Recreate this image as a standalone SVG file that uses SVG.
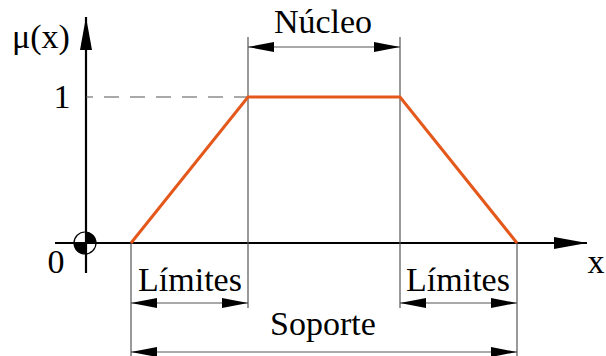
<svg xmlns="http://www.w3.org/2000/svg" width="606" height="356" viewBox="0 0 606 356">
  <style>
    text { font-family: "Liberation Serif", "Times New Roman", serif; font-size: 34px; fill: #000; }
    .mid { text-anchor: middle; }
    .axis { stroke: #000; stroke-width: 2.2; fill: none; }
    .dim { stroke: #555; stroke-width: 1.2; fill: none; }
    .ext { stroke: #555; stroke-width: 1.2; fill: none; }
    .fn { stroke: #E4581C; stroke-width: 3; fill: none; stroke-linejoin: miter; }
    .dash { stroke: #555; stroke-width: 1.2; stroke-dasharray: 15 11; stroke-dashoffset: 8; fill: none; }
  </style>
  <defs>
    <marker id="dimArrow" markerUnits="userSpaceOnUse" markerWidth="26" markerHeight="10" refX="26" refY="5" orient="auto-start-reverse" viewBox="0 0 26 10">
      <path d="M0,0 L26,5 L0,10 Z" fill="#000"/>
    </marker>
    <marker id="axisArrow" markerUnits="userSpaceOnUse" markerWidth="33" markerHeight="12" refX="33" refY="6" orient="auto" viewBox="0 0 33 12">
      <path d="M0,0 L33,6 L0,12 Z" fill="#000"/>
    </marker>
  </defs>

  <g id="origin">
    <circle cx="85" cy="243" r="11" fill="#fff" stroke="#000" stroke-width="1.2"/>
    <path d="M85,243 L96,243 A11,11 0 0 0 85,232 Z" fill="#000"/>
    <path d="M85,243 L74,243 A11,11 0 0 0 85,254 Z" fill="#000"/>
  </g>

  <g id="axes">
    <line class="axis" x1="55" y1="243" x2="587" y2="243" marker-end="url(#axisArrow)"/>
    <line class="axis" x1="86" y1="273" x2="86" y2="17" marker-end="url(#axisArrow)"/>
    <text x="12" y="48">μ(x)</text>
    <text class="mid" x="62" y="108">1</text>
    <text class="mid" x="56" y="273">0</text>
    <text class="mid" x="596" y="273">x</text>
  </g>

  <g id="connectors">
    <line class="dash" x1="86" y1="97" x2="248" y2="97"/>
    <line class="ext" x1="248" y1="37" x2="248" y2="308"/>
    <line class="ext" x1="400" y1="37" x2="400" y2="308"/>
    <line class="ext" x1="131" y1="243" x2="131" y2="356"/>
    <line class="ext" x1="517" y1="243" x2="517" y2="356"/>
    <line class="dim" x1="248" y1="47" x2="400" y2="47" marker-start="url(#dimArrow)" marker-end="url(#dimArrow)"/>
    <line class="dim" x1="131" y1="303" x2="248" y2="303" marker-start="url(#dimArrow)" marker-end="url(#dimArrow)"/>
    <line class="dim" x1="400" y1="303" x2="517" y2="303" marker-start="url(#dimArrow)" marker-end="url(#dimArrow)"/>
    <line class="dim" x1="131" y1="352" x2="517" y2="352" marker-start="url(#dimArrow)" marker-end="url(#dimArrow)"/>
  </g>

  <g id="membership">
    <polyline class="fn" points="131,243 248,97 400,97 517,243"/>
  </g>

  <g id="nucleo"><text class="mid" x="323" y="33">Núcleo</text></g>
  <g id="limites-left"><text class="mid" x="190" y="291">Límites</text></g>
  <g id="limites-right"><text class="mid" x="458" y="291">Límites</text></g>
  <g id="soporte"><text class="mid" x="323" y="335">Soporte</text></g>
</svg>
